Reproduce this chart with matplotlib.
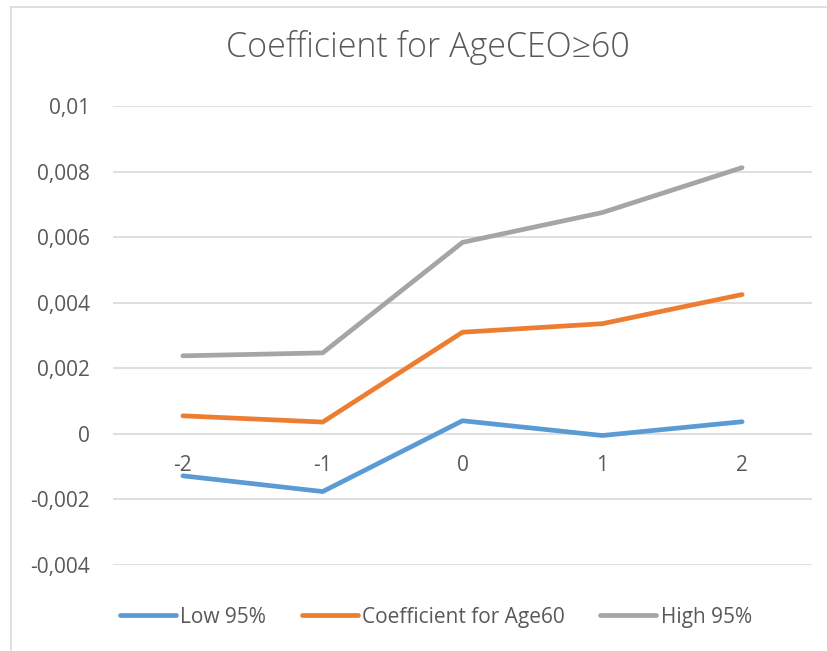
import matplotlib
matplotlib.use("Agg")
import matplotlib.pyplot as plt
from matplotlib.lines import Line2D
from matplotlib.ticker import FuncFormatter

# data
years = [-2, -1, 0, 1, 2]
low_95 = [-0.00128, -0.00176, 0.00040, -0.00005, 0.00037]
coef_age60 = [0.00055, 0.00036, 0.00310, 0.00336, 0.00425]
high_95 = [0.00238, 0.00247, 0.00584, 0.00675, 0.00812]
y_ticks = [-0.004, -0.002, 0, 0.002, 0.004, 0.006, 0.008, 0.01]

TXT = "#595959"
FS = 15
plt.rcParams["font.family"] = ["Open Sans", "DejaVu Sans"]

fig = plt.figure(figsize=(8.27, 6.51), dpi=100)
ax = fig.add_axes([113 / 827, 86 / 651, 699 / 827, 459 / 651])

pos = list(range(len(years)))
lw = 3.4
ax.plot(pos, low_95, color="#5B9BD5", lw=lw, solid_capstyle="round", label="Low 95%", zorder=3)
ax.plot(pos, coef_age60, color="#ED7D31", lw=lw, solid_capstyle="round", label="Coefficient for Age60", zorder=3)
ax.plot(pos, high_95, color="#A5A5A5", lw=lw, solid_capstyle="round", label="High 95%", zorder=3)

ax.set_xlim(-0.5, len(years) - 0.5)
ax.set_ylim(-0.004, 0.01)
ax.set_yticks(y_ticks)
ax.yaxis.set_major_formatter(FuncFormatter(
    lambda v, p: "0" if abs(v) < 1e-12 else ("%g" % round(v, 4)).replace(".", ",")))
ax.grid(axis="y", color="#D9D9D9", lw=1.2)
ax.set_axisbelow(True)
for s in ax.spines.values():
    s.set_visible(False)
ax.tick_params(axis="y", length=0, pad=16.5, labelsize=FS, labelcolor=TXT)
ax.set_xticks([])

# category labels sit just under the zero line
for p, yr in zip(pos, years):
    ax.text(p, -0.00097, str(yr), ha="center", va="center", fontsize=FS, color=TXT)

fig.text(0.517, 0.927, "Coefficient for AgeCEO\u226560", ha="center", va="center",
         fontsize=24.5, color=TXT, fontweight="light")

leg = fig.legend(loc="center", bbox_to_anchor=(0.527, 0.052), ncol=3, frameon=False,
                 fontsize=FS, handlelength=2.7, handletextpad=0.2, columnspacing=1.7)
for t in leg.get_texts():
    t.set_color(TXT)

# chart border (left and top edges only visible)
fig.add_artist(Line2D([11 / 827, 11 / 827], [0, 1 - 7 / 651], color="#D9D9D9", lw=1.2))
fig.add_artist(Line2D([11 / 827, 1], [1 - 7 / 651, 1 - 7 / 651], color="#D9D9D9", lw=1.2))

fig.savefig("out.png", dpi=100)
